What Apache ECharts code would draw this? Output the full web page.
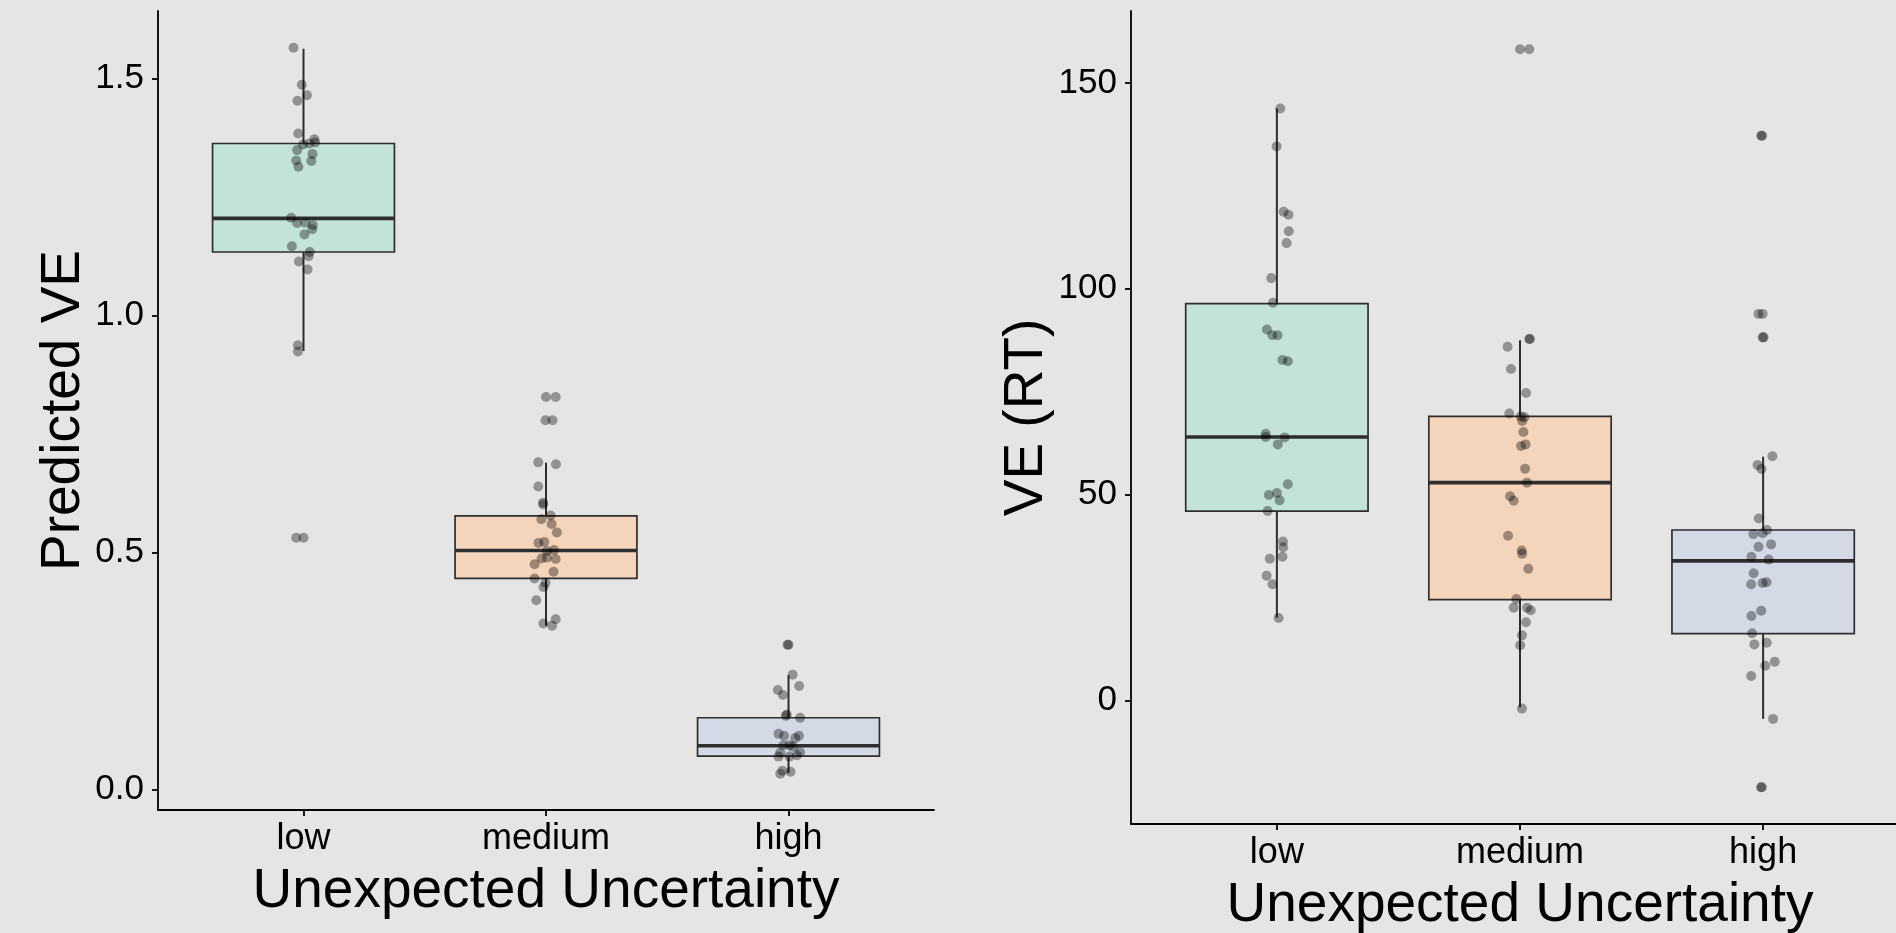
<!DOCTYPE html>
<html>
<head>
<meta charset="utf-8">
<script src="https://cdn.jsdelivr.net/npm/echarts@6.0.0/dist/echarts.min.js"></script>
<style>
html, body { margin: 0; padding: 0; background: #e5e5e5; }
#chart { width: 1896px; height: 933px; }
</style>
</head>
<body>
<div id="chart"></div>
<script>
const categories = ['low', 'medium', 'high'];

// left panel: Predicted VE, box stats per category
const predWhiskerLow  = [0.925, 0.345, 0.034];
const predQ1          = [1.134, 0.445, 0.070];
const predMedian      = [1.205, 0.504, 0.092];
const predQ3          = [1.363, 0.577, 0.151];
const predWhiskerHigh = [1.563, 0.689, 0.2405];

// jittered points (value, horizontal jitter in category units)
const predLowVals = [1.565, 1.487, 1.465, 1.453, 1.384, 1.372, 1.365, 1.363, 1.361, 1.349, 1.341, 1.327, 1.326, 1.314, 1.206, 1.195, 1.196, 1.191, 1.182, 1.171, 1.146, 1.134, 1.125, 1.114, 1.097, 0.937, 0.924, 0.531, 0.531];
const predLowJit  = [-0.041, -0.007, 0.014, -0.025, -0.022, 0.045, 0.048, 0.024, -0.002, -0.026, 0.037, -0.030, 0.032, -0.021, -0.051, -0.026, 0.008, 0.039, 0.036, 0.004, -0.048, 0.026, 0.021, -0.019, 0.017, -0.023, -0.023, -0.030, 0.000];
const predMedVals = [0.828, 0.828, 0.779, 0.779, 0.690, 0.686, 0.639, 0.605, 0.601, 0.578, 0.570, 0.560, 0.542, 0.520, 0.522, 0.503, 0.505, 0.487, 0.489, 0.486, 0.475, 0.459, 0.445, 0.436, 0.427, 0.399, 0.359, 0.350, 0.345];
const predMedJit  = [0.000, 0.040, -0.002, 0.027, -0.032, 0.041, -0.032, -0.012, -0.012, 0.019, -0.019, 0.023, 0.045, -0.031, -0.007, 0.004, 0.033, -0.018, 0.004, 0.040, -0.047, 0.031, -0.047, -0.002, -0.010, -0.040, 0.040, -0.011, 0.025];
const predHighVals = [0.305, 0.305, 0.242, 0.2095, 0.218, 0.199, 0.158, 0.155, 0.151, 0.117, 0.113, 0.113, 0.108, 0.093, 0.093, 0.090, 0.077, 0.078, 0.069, 0.069, 0.072, 0.039, 0.037, 0.033];
const predHighJit  = [-0.004, 0.000, 0.017, -0.044, 0.044, -0.023, -0.007, -0.011, 0.048, -0.041, -0.018, 0.043, 0.028, -0.021, 0.004, 0.018, -0.034, 0.048, -0.041, 0.004, 0.035, -0.025, 0.008, -0.034];

// right panel: VE (RT)
const rtWhiskerLow  = [20.1, -1.7, -4.5];
const rtQ1          = [46.0, 24.5, 16.2];
const rtMedian      = [64.0, 52.9, 33.9];
const rtQ3          = [96.4, 69.0, 41.4];
const rtWhiskerHigh = [143.8, 87.5, 59.2];

const rtLowVals = [143.8, 134.6, 118.7, 118.0, 114.0, 111.1, 102.6, 96.6, 90.1, 88.7, 88.7, 82.7, 82.4, 64.8, 64.0, 63.9, 62.2, 52.5, 49.9, 50.4, 48.6, 46.0, 38.6, 37.2, 34.9, 34.4, 30.3, 28.2, 20.0];
const rtLowJit  = [0.014, -0.001, 0.028, 0.048, 0.049, 0.040, -0.023, -0.016, -0.041, -0.019, 0.003, 0.023, 0.045, -0.046, -0.046, 0.032, 0.004, 0.045, -0.033, 0.000, 0.011, -0.038, 0.025, 0.026, 0.023, -0.029, -0.042, -0.018, 0.007];
const rtMedVals = [158.2, 158.2, 87.8, 87.8, 85.9, 80.5, 74.7, 69.7, 69.0, 68.8, 67.9, 65.2, 61.8, 62.2, 56.3, 52.9, 49.6, 48.5, 40.0, 36.4, 35.6, 32.0, 24.6, 22.5, 22.5, 21.9, 19.0, 15.8, 13.4, -2.0];
const rtMedJit  = [0.000, 0.038, 0.038, 0.041, -0.051, -0.037, 0.025, -0.044, 0.003, 0.018, 0.009, 0.014, 0.004, 0.023, 0.021, 0.029, -0.041, -0.026, -0.049, 0.007, 0.009, 0.034, -0.015, -0.026, 0.029, 0.044, 0.025, 0.008, 0.001, 0.008];
const rtHighVals = [137.2, 137.2, 93.9, 93.9, 88.2, 88.2, 59.3, 57.2, 56.2, 44.2, 41.4, 40.4, 40.6, 37.9, 37.3, 34.9, 34.2, 30.9, 28.2, 28.5, 28.7, 21.8, 20.5, 16.3, 13.6, 14.0, 9.4, 8.4, 5.9, -4.5, -21.1, -21.1];
const rtHighJit  = [-0.008, -0.004, -0.019, -0.002, -0.002, 0.002, 0.038, -0.023, -0.007, -0.018, 0.016, -0.040, -0.002, 0.033, -0.019, -0.048, 0.023, -0.039, -0.049, -0.002, 0.014, -0.008, -0.048, -0.045, -0.036, 0.015, 0.048, 0.009, -0.049, 0.041, -0.009, -0.005];

const boxFill = ['#c4e3d7', '#f4d4bb', '#d3dae6'];
const font = '"Liberation Sans", Arial, Helvetica, sans-serif';

let chartDom = document.getElementById('chart');
let myChart = echarts.init(chartDom, null, { renderer: 'canvas' });

function boxData(lo, q1, med, q3, hi) {
  return categories.map(function (c, i) {
    return [i + 1, lo[i], q1[i], med[i], q3[i], hi[i]];
  });
}

function jitterPoints(groups) {
  let out = [];
  groups.forEach(function (g, ci) {
    g[0].forEach(function (v, i) {
      out.push([ci + 1 + g[1][i], v]);
    });
  });
  return out;
}

function renderBox(params, api) {
  let x = api.value(0);
  let half = api.size([0.375, 0])[0];
  let pLow = api.coord([x, api.value(1)]);
  let pQ1 = api.coord([x, api.value(2)]);
  let pMed = api.coord([x, api.value(3)]);
  let pQ3 = api.coord([x, api.value(4)]);
  let pHigh = api.coord([x, api.value(5)]);
  let stroke = '#2e2e2e';
  return {
    type: 'group',
    children: [
      { type: 'line', shape: { x1: pLow[0], y1: pLow[1], x2: pQ1[0], y2: pQ1[1] }, style: { stroke: stroke, lineWidth: 2 } },
      { type: 'line', shape: { x1: pQ3[0], y1: pQ3[1], x2: pHigh[0], y2: pHigh[1] }, style: { stroke: stroke, lineWidth: 2 } },
      { type: 'rect', shape: { x: pQ3[0] - half, y: pQ3[1], width: half * 2, height: pQ1[1] - pQ3[1] },
        style: { fill: boxFill[params.dataIndex], stroke: stroke, lineWidth: 1.7 } },
      { type: 'line', shape: { x1: pMed[0] - half, y1: pMed[1], x2: pMed[0] + half, y2: pMed[1] }, style: { stroke: stroke, lineWidth: 3.6 } }
    ]
  };
}

function xAxisFor(gi) {
  return {
    type: 'value', gridIndex: gi, min: 0.4, max: 3.6,
    name: 'Unexpected Uncertainty', nameLocation: 'middle', nameGap: 54,
    nameTextStyle: { fontSize: 55, color: '#000', fontFamily: font },
    axisLine: { show: true, onZero: false, lineStyle: { color: '#000', width: 1.8 } },
    axisTick: { show: true, length: 6, customValues: [1, 2, 3], lineStyle: { color: '#000', width: 1.8 } },
    axisLabel: {
      customValues: [1, 2, 3], fontSize: 36, margin: 11, color: '#000', fontFamily: font,
      formatter: function (v) { return categories[Math.round(v) - 1]; }
    },
    splitLine: { show: false }
  };
}

function yAxisFor(gi, name, min, max, ticks, gap) {
  return {
    type: 'value', gridIndex: gi, min: min, max: max,
    name: name, nameLocation: 'middle', nameGap: gap,
    nameTextStyle: { fontSize: 55, color: '#000', fontFamily: font },
    axisLine: { show: true, onZero: false, lineStyle: { color: '#000', width: 1.8 } },
    axisTick: { show: true, length: 6, customValues: ticks, lineStyle: { color: '#000', width: 1.8 } },
    axisLabel: {
      customValues: ticks, fontSize: 35, margin: 14, color: '#000', fontFamily: font,
      formatter: function (v) { return gi === 0 ? v.toFixed(1) : String(v); }
    },
    splitLine: { show: false }
  };
}

let option = {
  backgroundColor: '#e5e5e5',
  animation: false,
  grid: [
    { left: 158, top: 11, width: 776, height: 799, outerBoundsMode: 'none' },
    { left: 1131, top: 11, width: 778, height: 813, outerBoundsMode: 'none' }
  ],
  xAxis: [xAxisFor(0), xAxisFor(1)],
  yAxis: [
    yAxisFor(0, 'Predicted VE', -0.0437, 1.6426, [0, 0.5, 1, 1.5], 65),
    yAxisFor(1, 'VE (RT)', -30.04, 167.5, [0, 50, 100, 150], 77)
  ],
  series: [
    {
      type: 'custom', xAxisIndex: 0, yAxisIndex: 0, renderItem: renderBox,
      encode: { x: 0, y: [1, 2, 3, 4, 5] }, z: 2,
      data: boxData(predWhiskerLow, predQ1, predMedian, predQ3, predWhiskerHigh)
    },
    {
      type: 'scatter', xAxisIndex: 0, yAxisIndex: 0, symbolSize: 10, z: 3,
      itemStyle: { color: 'rgba(0,0,0,0.45)' },
      data: jitterPoints([[predLowVals, predLowJit], [predMedVals, predMedJit], [predHighVals, predHighJit]])
    },
    {
      type: 'custom', xAxisIndex: 1, yAxisIndex: 1, renderItem: renderBox,
      encode: { x: 0, y: [1, 2, 3, 4, 5] }, z: 2,
      data: boxData(rtWhiskerLow, rtQ1, rtMedian, rtQ3, rtWhiskerHigh)
    },
    {
      type: 'scatter', xAxisIndex: 1, yAxisIndex: 1, symbolSize: 10, z: 3,
      itemStyle: { color: 'rgba(0,0,0,0.45)' },
      data: jitterPoints([[rtLowVals, rtLowJit], [rtMedVals, rtMedJit], [rtHighVals, rtHighJit]])
    }
  ]
};

option && myChart.setOption(option);
</script>
</body>
</html>
